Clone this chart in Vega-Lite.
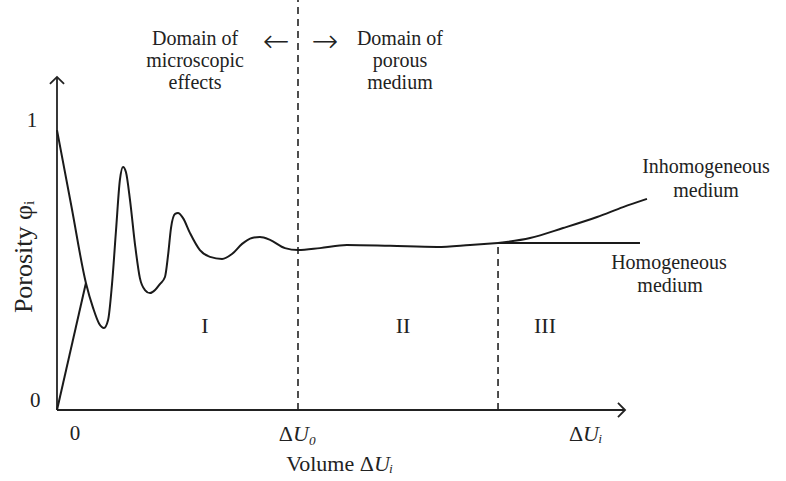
{
  "$schema": "https://vega.github.io/schema/vega-lite/v6.json",
  "width": 786,
  "height": 481,
  "autosize": "none",
  "padding": 0,
  "background": "white",
  "config": {"view": {"stroke": null}, "font": "Liberation Serif"},
  "datasets": {
    "curve": [
      {"series": "main", "x": 0, "y": 0.989},
      {"series": "main", "x": 0.06, "y": 0.719},
      {"series": "main", "x": 0.12, "y": 0.449},
      {"series": "main", "x": 0.15, "y": 0.36},
      {"series": "main", "x": 0.175, "y": 0.305},
      {"series": "main", "x": 0.195, "y": 0.29},
      {"series": "main", "x": 0.212, "y": 0.318},
      {"series": "main", "x": 0.228, "y": 0.442},
      {"series": "main", "x": 0.245, "y": 0.636},
      {"series": "main", "x": 0.261, "y": 0.813},
      {"series": "main", "x": 0.274, "y": 0.859},
      {"series": "main", "x": 0.286, "y": 0.841},
      {"series": "main", "x": 0.303, "y": 0.742},
      {"series": "main", "x": 0.324, "y": 0.583},
      {"series": "main", "x": 0.344, "y": 0.466},
      {"series": "main", "x": 0.365, "y": 0.424},
      {"series": "main", "x": 0.386, "y": 0.413},
      {"series": "main", "x": 0.407, "y": 0.424},
      {"series": "main", "x": 0.427, "y": 0.445},
      {"series": "main", "x": 0.448, "y": 0.47},
      {"series": "main", "x": 0.461, "y": 0.548},
      {"series": "main", "x": 0.473, "y": 0.643},
      {"series": "main", "x": 0.49, "y": 0.693},
      {"series": "main", "x": 0.502, "y": 0.696},
      {"series": "main", "x": 0.523, "y": 0.678},
      {"series": "main", "x": 0.552, "y": 0.625},
      {"series": "main", "x": 0.593, "y": 0.565},
      {"series": "main", "x": 0.635, "y": 0.541},
      {"series": "main", "x": 0.685, "y": 0.534},
      {"series": "main", "x": 0.726, "y": 0.551},
      {"series": "main", "x": 0.768, "y": 0.587},
      {"series": "main", "x": 0.809, "y": 0.608},
      {"series": "main", "x": 0.842, "y": 0.611},
      {"series": "main", "x": 0.884, "y": 0.601},
      {"series": "main", "x": 0.946, "y": 0.572},
      {"series": "main", "x": 1.0, "y": 0.565},
      {"series": "main", "x": 1.091, "y": 0.572},
      {"series": "main", "x": 1.203, "y": 0.583},
      {"series": "main", "x": 1.382, "y": 0.58},
      {"series": "main", "x": 1.577, "y": 0.576},
      {"series": "main", "x": 1.714, "y": 0.583},
      {"series": "main", "x": 1.83, "y": 0.59},
      {"series": "homog", "x": 1.83, "y": 0.59},
      {"series": "homog", "x": 2.419, "y": 0.59},
      {"series": "inhom", "x": 1.83, "y": 0.59},
      {"series": "inhom", "x": 1.963, "y": 0.608},
      {"series": "inhom", "x": 2.1, "y": 0.643},
      {"series": "inhom", "x": 2.241, "y": 0.682},
      {"series": "inhom", "x": 2.349, "y": 0.717},
      {"series": "inhom", "x": 2.448, "y": 0.746},
      {"series": "rise", "x": 0, "y": 0},
      {"series": "rise", "x": 0.12, "y": 0.449}
    ],
    "dashes": [
      {"x": 1.0, "y": 0, "y2": 1.449},
      {"x": 1.83, "y": 0, "y2": 0.59}
    ],
    "axes": [
      {"axis": "x", "x": 0, "y": 0, "x2": 2.357, "y2": 0},
      {"axis": "y", "x": 0, "y": 0, "x2": 0, "y2": 1.177}
    ],
    "ticks": [
      {"label": "0", "x": -0.09, "y": 0.032},
      {"label": "1", "x": -0.104, "y": 1.021},
      {"label": "0", "x": 0.075, "y": -0.085}
    ],
    "deltas": [
      {"pre": "Δ", "sym": "U₀", "x": 0.979, "y": -0.085},
      {"pre": "Δ", "sym": "Uᵢ", "x": 2.183, "y": -0.085},
      {"pre": "Volume Δ", "sym": "Uᵢ", "x": 1.315, "y": -0.19}
    ],
    "regions": [
      {"label": "I", "x": 0.614, "y": 0.272},
      {"label": "II", "x": 1.436, "y": 0.272},
      {"label": "III", "x": 2.025, "y": 0.272}
    ],
    "labels": [
      {"label": "Domain of", "x": 0.573, "y": 1.29},
      {"label": "microscopic", "x": 0.573, "y": 1.212},
      {"label": "effects", "x": 0.573, "y": 1.134},
      {"label": "Domain of", "x": 1.423, "y": 1.29},
      {"label": "porous", "x": 1.423, "y": 1.212},
      {"label": "medium", "x": 1.423, "y": 1.134},
      {"label": "Inhomogeneous", "x": 2.693, "y": 0.837},
      {"label": "medium", "x": 2.693, "y": 0.753},
      {"label": "Homogeneous", "x": 2.539, "y": 0.498},
      {"label": "medium", "x": 2.544, "y": 0.417}
    ],
    "arrows": [
      {"label": "←", "x": 0.909, "y": 1.3},
      {"label": "→", "x": 1.112, "y": 1.3}
    ],
    "ytitle": [
      {"label": "Porosity φᵢ", "x": -0.137, "y": 0.541}
    ]
  },
  "layer": [
    {
      "data": {"name": "dashes"},
      "mark": {"type": "rule", "color": "#222", "strokeWidth": 1.6, "strokeDash": [7, 5]},
      "encoding": {
        "x": {"field": "x", "type": "quantitative", "scale": {"domain": [-0.2365, 3.0249], "nice": false, "zero": false}, "axis": null},
        "y": {"field": "y", "type": "quantitative", "scale": {"domain": [-0.2509, 1.4488], "nice": false, "zero": false}, "axis": null},
        "y2": {"field": "y2"}
      }
    },
    {
      "data": {"name": "axes"},
      "mark": {"type": "rule", "color": "#222", "strokeWidth": 1.8},
      "encoding": {
        "x": {"field": "x", "type": "quantitative"},
        "y": {"field": "y", "type": "quantitative"},
        "x2": {"field": "x2"},
        "y2": {"field": "y2"}
      }
    },
    {
      "data": {"name": "axes"},
      "transform": [{"filter": "datum.axis === 'x'"}],
      "mark": {"type": "point", "shape": "M-1,-1L0,0L-1,1", "size": 200, "filled": false, "color": "#222", "strokeWidth": 1.8, "opacity": 1},
      "encoding": {
        "x": {"field": "x2", "type": "quantitative"},
        "y": {"field": "y2", "type": "quantitative"}
      }
    },
    {
      "data": {"name": "axes"},
      "transform": [{"filter": "datum.axis === 'y'"}],
      "mark": {"type": "point", "shape": "M-1,1L0,0L1,1", "size": 200, "filled": false, "color": "#222", "strokeWidth": 1.8, "opacity": 1},
      "encoding": {
        "x": {"field": "x2", "type": "quantitative"},
        "y": {"field": "y2", "type": "quantitative"}
      }
    },
    {
      "data": {"name": "curve"},
      "mark": {"type": "line", "interpolate": "monotone", "color": "#1a1a1a", "strokeWidth": 2},
      "encoding": {
        "x": {"field": "x", "type": "quantitative"},
        "y": {"field": "y", "type": "quantitative"},
        "detail": {"field": "series"}
      }
    },
    {
      "data": {"name": "ticks"},
      "mark": {"type": "text", "align": "center", "baseline": "middle", "fontSize": 21, "color": "#222"},
      "encoding": {
        "x": {"field": "x", "type": "quantitative"},
        "y": {"field": "y", "type": "quantitative"},
        "text": {"field": "label"}
      }
    },
    {
      "data": {"name": "deltas"},
      "mark": {"type": "text", "align": "right", "baseline": "middle", "fontSize": 22, "color": "#222"},
      "encoding": {
        "x": {"field": "x", "type": "quantitative"},
        "y": {"field": "y", "type": "quantitative"},
        "text": {"field": "pre"}
      }
    },
    {
      "data": {"name": "deltas"},
      "mark": {"type": "text", "align": "left", "baseline": "middle", "fontSize": 22, "fontStyle": "italic", "color": "#222"},
      "encoding": {
        "x": {"field": "x", "type": "quantitative"},
        "y": {"field": "y", "type": "quantitative"},
        "text": {"field": "sym"}
      }
    },
    {
      "data": {"name": "regions"},
      "mark": {"type": "text", "align": "center", "baseline": "alphabetic", "fontSize": 22, "color": "#222"},
      "encoding": {
        "x": {"field": "x", "type": "quantitative"},
        "y": {"field": "y", "type": "quantitative"},
        "text": {"field": "label"}
      }
    },
    {
      "data": {"name": "labels"},
      "mark": {"type": "text", "align": "center", "baseline": "alphabetic", "fontSize": 20, "color": "#222"},
      "encoding": {
        "x": {"field": "x", "type": "quantitative"},
        "y": {"field": "y", "type": "quantitative"},
        "text": {"field": "label"}
      }
    },
    {
      "data": {"name": "arrows"},
      "mark": {"type": "text", "align": "center", "baseline": "middle", "fontSize": 32, "font": "DejaVu Sans", "fontWeight": 300, "color": "#222"},
      "encoding": {
        "x": {"field": "x", "type": "quantitative"},
        "y": {"field": "y", "type": "quantitative"},
        "text": {"field": "label"}
      }
    },
    {
      "data": {"name": "ytitle"},
      "mark": {"type": "text", "align": "center", "baseline": "middle", "fontSize": 26, "angle": 270, "color": "#222"},
      "encoding": {
        "x": {"field": "x", "type": "quantitative"},
        "y": {"field": "y", "type": "quantitative"},
        "text": {"field": "label"}
      }
    }
  ]
}
